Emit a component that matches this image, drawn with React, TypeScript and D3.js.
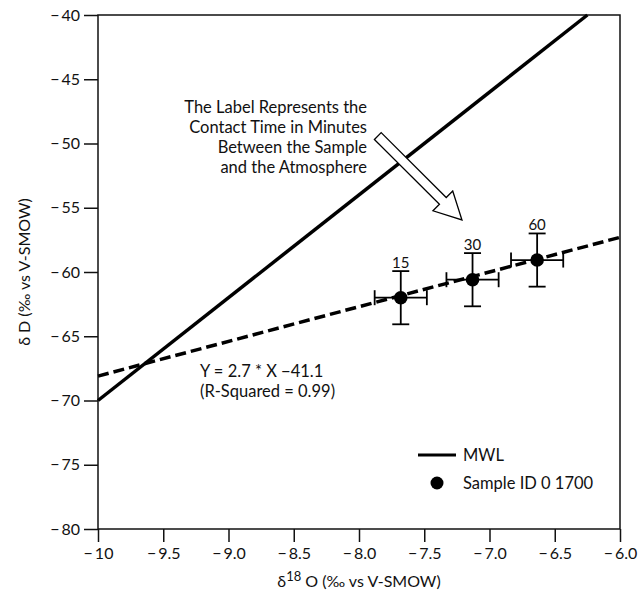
import React, { useEffect, useRef } from "react";
import * as d3 from "d3";

// sample points (contact time labels in minutes)
const sampleLabels = ["15", "30", "60"];
const sampleX = [-7.68, -7.13, -6.635];
const sampleY = [-62.0, -60.6, -59.07];
const sampleXErr = [0.2, 0.2, 0.2];
const sampleYErr = [2.07, 2.07, 2.07];

// meteoric water line endpoints
const mwlX = [-10, -6.25];
const mwlY = [-70, -40];

// regression line endpoints (Y = 2.7 * X - 41.1)
const fitX = [-10, -6];
const fitY = [-68.1, -57.3];

const xTicks = [-10, -9.5, -9, -8.5, -8, -7.5, -7, -6.5, -6];
const yTicks = [-40, -45, -50, -55, -60, -65, -70, -75, -80];

// annotation arrow, data coords
const arrowFrom = [-7.856, -49.42];
const arrowTo = [-7.211, -55.95];

const W = 639;
const H = 596;
const margin = { top: 15, right: 19, bottom: 67, left: 98 };
const FONT = "Lato, 'Open Sans', sans-serif";

const minus = (s: string) => s.replace("-", "\u2212\u2009");

export default function App() {
  const svgRef = useRef<SVGSVGElement>(null);

  useEffect(() => {
    const svg = d3.select(svgRef.current);
    svg.selectAll("*").remove();

    const x = d3.scaleLinear().domain([-10, -6]).range([margin.left, W - margin.right]);
    const y = d3.scaleLinear().domain([-80, -40]).range([H - margin.bottom, margin.top]);

    const g = svg.append("g").style("font-family", FONT).attr("fill", "#111");

    // frame
    g.append("rect")
      .attr("x", x(-10))
      .attr("y", y(-40))
      .attr("width", x(-6) - x(-10))
      .attr("height", y(-80) - y(-40))
      .attr("fill", "none")
      .attr("stroke", "#111")
      .attr("stroke-width", 1.5);

    // y axis
    const yAxis = d3
      .axisLeft(y)
      .tickValues(yTicks)
      .tickSize(14)
      .tickPadding(4)
      .tickFormat((d) => minus(String(d)));
    const ya = g.append("g").attr("transform", `translate(${x(-10)},0)`).call(yAxis);
    ya.select(".domain").remove();
    ya.selectAll("line").attr("stroke", "#111").attr("stroke-width", 1.5);
    ya.selectAll("text").style("font-size", "16px").style("font-family", FONT).attr("fill", "#111");

    // x axis
    const xAxis = d3
      .axisBottom(x)
      .tickValues(xTicks)
      .tickSize(13)
      .tickPadding(6)
      .tickFormat((d) => {
        const v = d as number;
        return minus(v === -10 ? "-10" : v.toFixed(1));
      });
    const xa = g.append("g").attr("transform", `translate(0,${y(-80)})`).call(xAxis);
    xa.select(".domain").remove();
    xa.selectAll("line").attr("stroke", "#111").attr("stroke-width", 1.5);
    xa.selectAll("text").style("font-size", "16px").style("font-family", FONT).attr("fill", "#111");

    // axis titles
    const xt = g
      .append("text")
      .attr("x", (x(-10) + x(-6)) / 2)
      .attr("y", 587)
      .attr("text-anchor", "middle")
      .style("font-size", "16px");
    xt.append("tspan").text("\u03B4");
    xt.append("tspan").attr("dy", -6).style("font-size", "13px").text("18");
    xt.append("tspan").attr("dy", 6).text(" O (\u2030 vs V-SMOW)");

    g.append("text")
      .attr("transform", `translate(30,${(y(-40) + y(-80)) / 2}) rotate(-90)`)
      .attr("text-anchor", "middle")
      .style("font-size", "16px")
      .text("\u03B4 D (\u2030 vs V-SMOW)");

    // fit line (dashed)
    g.append("path")
      .attr("d", d3.line<number>().x((d) => x(d)).y((_, i) => y(fitY[i]))(fitX))
      .attr("fill", "none")
      .attr("stroke", "#000")
      .attr("stroke-width", 3.5)
      .attr("stroke-dasharray", "11,5");

    // MWL
    g.append("path")
      .attr("d", d3.line<number>().x((d) => x(d)).y((_, i) => y(mwlY[i]))(mwlX))
      .attr("fill", "none")
      .attr("stroke", "#000")
      .attr("stroke-width", 3.5);

    // block arrow
    const x0 = x(arrowFrom[0]);
    const y0 = y(arrowFrom[1]);
    const x1 = x(arrowTo[0]);
    const y1 = y(arrowTo[1]);
    const len = Math.hypot(x1 - x0, y1 - y0);
    const ang = (Math.atan2(y1 - y0, x1 - x0) * 180) / Math.PI;
    const sw = 4.8;
    const hw = 14;
    const hl = 27;
    const pts = [
      [0, -sw],
      [len - hl, -sw],
      [len - hl, -hw],
      [len, 0],
      [len - hl, hw],
      [len - hl, sw],
      [0, sw],
    ];
    g.append("polygon")
      .attr("points", pts.map((p) => p.join(",")).join(" "))
      .attr("transform", `translate(${x0},${y0}) rotate(${ang})`)
      .attr("fill", "#fff")
      .attr("stroke", "#000")
      .attr("stroke-width", 1.3);

    // annotation
    const note = [
      "The Label Represents the",
      "Contact Time in Minutes",
      "Between the Sample",
      "and the Atmosphere",
    ];
    g.append("g")
      .selectAll("text")
      .data(note)
      .join("text")
      .attr("x", 367)
      .attr("y", (_, i) => 113 + i * 20)
      .attr("text-anchor", "end")
      .style("font-size", "16.5px")
      .text((d) => d);

    // equation
    g.append("text").attr("x", 200).attr("y", 377).style("font-size", "16.5px").text("Y = 2.7 * X \u221241.1");
    g.append("text").attr("x", 200).attr("y", 397).style("font-size", "16.5px").text("(R-Squared = 0.99)");

    // error bars and points
    const pts2 = sampleX.map((vx, i) => ({
      x: vx,
      y: sampleY[i],
      ex: sampleXErr[i],
      ey: sampleYErr[i],
      label: sampleLabels[i],
    }));
    const eb = g.append("g").attr("stroke", "#000").attr("stroke-width", 1.8);
    pts2.forEach((p) => {
      const cx = x(p.x);
      const cy = y(p.y);
      const top = y(p.y + p.ey);
      const bot = y(p.y - p.ey);
      const l = x(p.x - p.ex);
      const r = x(p.x + p.ex);
      eb.append("line").attr("x1", cx).attr("x2", cx).attr("y1", top).attr("y2", bot);
      eb.append("line").attr("x1", cx - 8.5).attr("x2", cx + 8.5).attr("y1", top).attr("y2", top);
      eb.append("line").attr("x1", cx - 8.5).attr("x2", cx + 8.5).attr("y1", bot).attr("y2", bot);
      eb.append("line").attr("x1", l).attr("x2", r).attr("y1", cy).attr("y2", cy);
      eb.append("line").attr("x1", l).attr("x2", l).attr("y1", cy - 7.5).attr("y2", cy + 7.5);
      eb.append("line").attr("x1", r).attr("x2", r).attr("y1", cy - 7.5).attr("y2", cy + 7.5);
    });
    g.append("g")
      .selectAll("circle")
      .data(pts2)
      .join("circle")
      .attr("cx", (d) => x(d.x))
      .attr("cy", (d) => y(d.y))
      .attr("r", 6.8)
      .attr("fill", "#000");
    g.append("g")
      .selectAll("text")
      .data(pts2)
      .join("text")
      .attr("x", (d) => x(d.x))
      .attr("y", (d) => y(d.y + d.ey) - 3)
      .attr("text-anchor", "middle")
      .style("font-size", "15px")
      .text((d) => d.label);

    // legend
    const lg = g.append("g");
    lg.append("line")
      .attr("x1", 418)
      .attr("x2", 456)
      .attr("y1", 455)
      .attr("y2", 455)
      .attr("stroke", "#000")
      .attr("stroke-width", 3);
    lg.append("text").attr("x", 463).attr("y", 461).style("font-size", "16.5px").text("MWL");
    lg.append("circle").attr("cx", 437).attr("cy", 483).attr("r", 6.5).attr("fill", "#000");
    lg.append("text").attr("x", 463).attr("y", 489).style("font-size", "16.5px").text("Sample ID 0 1700");
  }, []);

  return (
    <svg
      ref={svgRef}
      width={W}
      height={H}
      style={{ position: "absolute", left: 0, top: 0, background: "#fff" }}
    />
  );
}
